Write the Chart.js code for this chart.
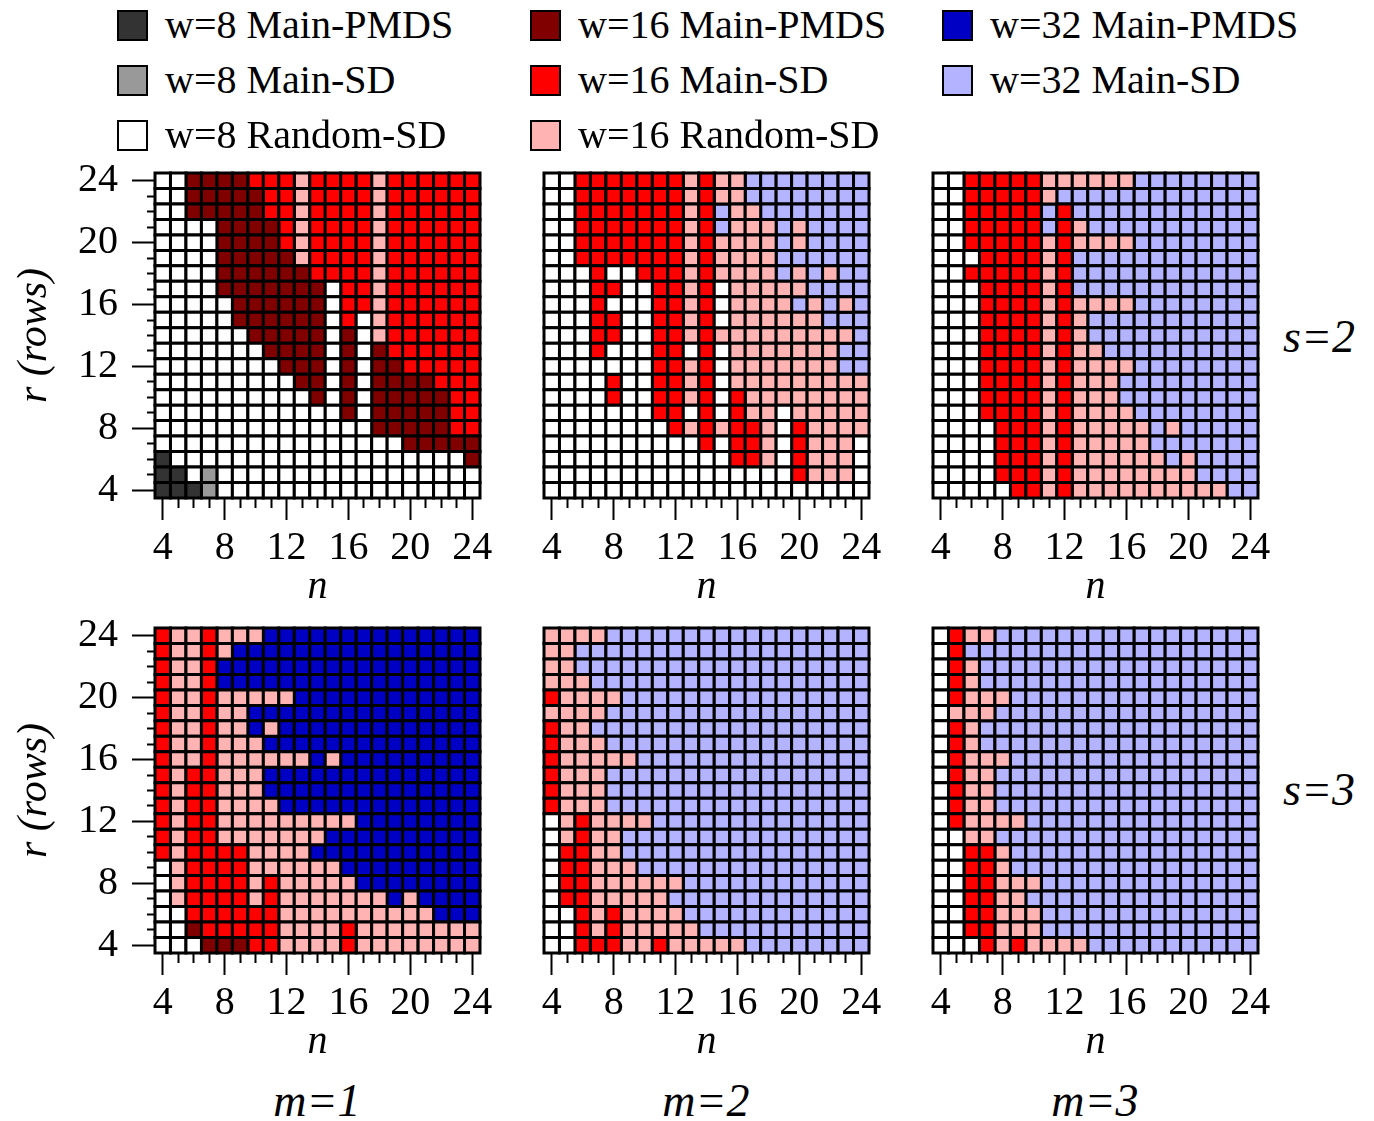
<!DOCTYPE html>
<html>
<head>
<meta charset="utf-8">
<script src="https://cdn.jsdelivr.net/npm/chart.js@4.4.0/dist/chart.umd.min.js"></script>
<style>
  body { margin: 0; background: #fff; }
  #page { position: relative; width: 1374px; height: 1121px; font-family: "Liberation Serif", serif; color: #000; }
  canvas.panel { position: absolute; }
  .key { position: absolute; width: 31px; height: 31px; box-sizing: border-box; border: 2px solid #000; }
  .keytext { position: absolute; font-size: 40px; line-height: 50px; white-space: nowrap; }
  .side { position: absolute; font-size: 46px; line-height: 56px; font-style: italic; white-space: nowrap; z-index: 2; }
</style>
</head>
<body>
<div id="page">
  <canvas class="panel" id="p1"></canvas>
  <canvas class="panel" id="p2"></canvas>
  <canvas class="panel" id="p3"></canvas>
  <canvas class="panel" id="p4"></canvas>
  <canvas class="panel" id="p5"></canvas>
  <canvas class="panel" id="p6"></canvas>
</div>
<script>
// n (columns) and r (rows, top to bottom)
var nValues = [4, 5, 6, 7, 8, 9, 10, 11, 12, 13, 14, 15, 16, 17, 18, 19, 20, 21, 22, 23, 24];
var rValues = [24, 23, 22, 21, 20, 19, 18, 17, 16, 15, 14, 13, 12, 11, 10, 9, 8, 7, 6, 5, 4];
var tickLabels = [4, 8, 12, 16, 20, 24];

var categories = ['w=8 Main-PMDS', 'w=8 Main-SD', 'w=8 Random-SD',
                  'w=16 Main-PMDS', 'w=16 Main-SD', 'w=16 Random-SD',
                  'w=32 Main-PMDS', 'w=32 Main-SD'];
var codes = ['A', 'B', 'W', 'D', 'R', 'P', 'N', 'L'];
var colors = ['#333333', '#999999', '#ffffff', '#800000', '#ff0000', '#ffb3b3', '#0000c4', '#b3b3ff'];

var rowLabels = ['s=2', 's=3'];
var colLabels = ['m=1', 'm=2', 'm=3'];

// one string per row r=24..4, one char per n=4..24
var s2m1 = [
  'WWDDDDRRRPRRRRPRRRRRR',
  'WWDDDDDRRPRRRRPRRRRRR',
  'WWDDDDDRRPRRRRPRRRRRR',
  'WWWWDDDDRPRRRRPRRRRRR',
  'WWWWDDDDRPRRRRPRRRRRR',
  'WWWWDDDDDPRRRRPRRRRRR',
  'WWWWDDDDDDRRRRPRRRRRR',
  'WWWWDDDDDDDWRRPRRRRRR',
  'WWWWWDDDDDDWRRPRRRRRR',
  'WWWWWDDDDDDWRWPRRRRRR',
  'WWWWWWDDDDDWDWPRRRRRR',
  'WWWWWWWDDDDWDWDRRRRRR',
  'WWWWWWWWDDDWDWDDRRRRR',
  'WWWWWWWWWDDWDWDDDDRRR',
  'WWWWWWWWWWDWDWDDDDDRR',
  'WWWWWWWWWWWWDWDDDDDRR',
  'WWWWWWWWWWWWWWDDDDDRR',
  'WWWWWWWWWWWWWWWWDDDDD',
  'AWWWWWWWWWWWWWWWWWWWD',
  'AAWBWWWWWWWWWWWWWWWWW',
  'AAABWWWWWWWWWWWWWWWWW'
];
var s2m2 = [
  'WWRRRRRRRPRPPLLLLLLLL',
  'WWRRRRRRRPRPPLLLLLLLL',
  'WWRRRRRRRPRLPPLLLLLLL',
  'WWRRRRRRRPRLPPPLPLLLL',
  'WWRRRRRRRPRPPPPLPLLLL',
  'WWRRRRRRRPRPPPPLLLLLL',
  'WWWRWWRRRPRPPPPLPLPLL',
  'WWWRRWWRRPRWPPPPPLLLL',
  'WWWRWWWRRPRWPPPPLPLPL',
  'WWWRRWWRRPRWPPPPPPLLL',
  'WWWRRWWRRPRPPPPPPPPPL',
  'WWWRWWWRRWRWPPPPPPPLL',
  'WWWWWWWRRPRWPPPPPPPLL',
  'WWWWRWWRRPRWPPPPPPPPP',
  'WWWWRWWRRPRWRPPPPPPPP',
  'WWWWWWWRRWRWRPPWPPPPP',
  'WWWWWWWWRPRPRRPWRPPPP',
  'WWWWWWWWWWRWRRPWRPPPW',
  'WWWWWWWWWWWWRRPWRPPPW',
  'WWWWWWWWWWWWWWWWRPPPW',
  'WWWWWWWWWWWWWWWWWWWWW'
];
var s2m3 = [
  'WWRRRRRPPPPPPLLLLLLLL',
  'WWRRRRRPLLLLLLLLLLLLL',
  'WWRRRRRLRLLLLLLLLLLLL',
  'WWRRRRRLRPLLLLLLLLLLL',
  'WWRRRRRPRPPPPLLLLLLLL',
  'WWWRRRRPRLLLLLLLLLLLL',
  'WWRRRRRPRLLLLLLLLLLLL',
  'WWWRRRRPRLLLLLLLLLLLL',
  'WWWRRRRPRPPPPLLLLLLLL',
  'WWWRRRRPRPLLLLLLLLLLL',
  'WWWRRRRPRPLLLLLLLLLLL',
  'WWWRRRRPRPPLLLLLLLLLL',
  'WWWRRRRPRPPPPLLLLLLLL',
  'WWWRRRRPRPPPLLLLLLLLL',
  'WWWRRRRPRPPPLLLLLLLLL',
  'WWWRRRRPRPPPPLLLLLLLL',
  'WWWWRRRPRPPPPPLPLLLLL',
  'WWWWRRRPRPPPPPLLLLLLL',
  'WWWWRRRPRPPPPPPLPLLLL',
  'WWWWRRRPRPPPPPPPPLLLL',
  'WWWWWRRPRPPPPPPPPPPLL'
];
var s3m1 = [
  'RPPRPPPNNNNNNNNNNNNNN',
  'RPPRPNNNNNNNNNNNNNNNN',
  'RPPRNNNNNNNNNNNNNNNNN',
  'RPPRNNNNNNNNNNNNNNNNN',
  'RPPRPPPPPNNNNNNNNNNNN',
  'RPPRPPNNNNNNNNNNNNNNN',
  'RPPRPPNPNNNNNNNNNNNNN',
  'RPPRPPPNNNNNNNNNNNNNN',
  'RPPRPPPPPPNPNNNNNNNNN',
  'RPRRPPPNNNNNNNNNNNNNN',
  'RPRRPPPNNNNNNNNNNNNNN',
  'RPRRPPPPNNNNNNNNNNNNN',
  'RPRRPPPPPPPPPNNNNNNNN',
  'RPRRPPPPPPPNNNNNNNNNN',
  'RPRRRRPPPPNNNNNNNNNNN',
  'WPRRRRPPPPPPNNNNNNNNN',
  'WPRRRRPRPPPPPNNNNNNNN',
  'WPRRRRPRPPPPPPPNPNNNN',
  'WWRRRRRRPPPPPPPPPPNNN',
  'WWDRRRRRPPPPRPPPPPPPP',
  'WWWDDDRRPPPPRPPPPPPPP'
];
var s3m2 = [
  'PPPPLLLLLLLLLLLLLLLLL',
  'PPLLLLLLLLLLLLLLLLLLL',
  'PPLLLLLLLLLLLLLLLLLLL',
  'PPPLLLLLLLLLLLLLLLLLL',
  'RPPPPLLLLLLLLLLLLLLLL',
  'PPPPLLLLLLLLLLLLLLLLL',
  'RPPLLLLLLLLLLLLLLLLLL',
  'RPPPLLLLLLLLLLLLLLLLL',
  'RPPPPPLLLLLLLLLLLLLLL',
  'RPPPLLLLLLLLLLLLLLLLL',
  'RPPPLLLLLLLLLLLLLLLLL',
  'RPPPLLLLLLLLLLLLLLLLL',
  'WPRPPPPLLLLLLLLLLLLLL',
  'WPRPPLLLLLLLLLLLLLLLL',
  'WRRPPLLLLLLLLLLLLLLLL',
  'WRRPPPLLLLLLLLLLLLLLL',
  'WRRPPPPPPLLLLLLLLLLLL',
  'WRRPPPPPLLLLLLLLLLLLL',
  'WWRPRPPPPLLLLLLLLLLLL',
  'WWRPRPPPPPLLLLLLLLLLL',
  'WWRRRPPRPPPPPLLLLLLLL'
];
var s3m3 = [
  'WRPPLLLLLLLLLLLLLLLLL',
  'WRLLLLLLLLLLLLLLLLLLL',
  'WRPLLLLLLLLLLLLLLLLLL',
  'WRPLLLLLLLLLLLLLLLLLL',
  'WRPPPLLLLLLLLLLLLLLLL',
  'WPPPLLLLLLLLLLLLLLLLL',
  'WRPLLLLLLLLLLLLLLLLLL',
  'WRPLLLLLLLLLLLLLLLLLL',
  'WRPPPLLLLLLLLLLLLLLLL',
  'WRPPLLLLLLLLLLLLLLLLL',
  'WRPPLLLLLLLLLLLLLLLLL',
  'WRPPLLLLLLLLLLLLLLLLL',
  'WRPPPPLLLLLLLLLLLLLLL',
  'WWPPLLLLLLLLLLLLLLLLL',
  'WWRRPLLLLLLLLLLLLLLLL',
  'WWRRPLLLLLLLLLLLLLLLL',
  'WWRRPPPLLLLLLLLLLLLLL',
  'WWRRPPLLLLLLLLLLLLLLL',
  'WWRRPPPLLLLLLLLLLLLLL',
  'WWRRPPPLLLLLLLLLLLLLL',
  'WWWRPRPPPPLLLLLLLLLLL'
];

var FONT = 'Liberation Serif, serif';
Chart.defaults.font.family = FONT;
Chart.defaults.color = '#000';
var page = document.getElementById('page');

// legend, three columns
var keyX = [117, 530, 942];
var keyTop = [10, 65, 120];
categories.forEach(function(name, k) {
  var col = Math.floor(k / 3), row = k % 3;
  var sq = document.createElement('div');
  sq.className = 'key';
  sq.style.left = keyX[col] + 'px';
  sq.style.top = keyTop[row] + 'px';
  sq.style.background = colors[k];
  page.appendChild(sq);
  var t = document.createElement('div');
  t.className = 'keytext';
  t.style.left = (keyX[col] + 48) + 'px';
  t.style.top = (keyTop[row] - 10) + 'px';
  t.textContent = name;
  page.appendChild(t);
});

function addLabel(text, x, y, center) {
  var d = document.createElement('div');
  d.className = 'side';
  d.textContent = text;
  d.style.top = y + 'px';
  if (center) {
    d.style.left = (x - 100) + 'px';
    d.style.width = '200px';
    d.style.textAlign = 'center';
  } else {
    d.style.left = x + 'px';
  }
  page.appendChild(d);
}
addLabel(rowLabels[0], 1283, 309, false);
addLabel(rowLabels[1], 1283, 762, false);
addLabel(colLabels[0], 317, 1073, true);
addLabel(colLabels[1], 706, 1073, true);
addLabel(colLabels[2], 1095, 1073, true);

function cellRadius(c) {
  var s = c.chart.scales.x;
  return Math.abs(s.getPixelForValue(1) - s.getPixelForValue(0)) / Math.SQRT2;
}

var XH = 113; // height of the x axis block (ticks, labels, title)

function makePanel(id, grid, areaLeft, areaTop, showY) {
  var padL = showY ? 155 : 25;
  var cv = document.getElementById(id);
  var w = padL + 325 + 25, h = 25 + 325 + XH;
  cv.width = w; cv.height = h;
  cv.style.left = (areaLeft - padL) + 'px';
  cv.style.top = (areaTop - 25) + 'px';
  cv.style.width = w + 'px'; cv.style.height = h + 'px';

  var datasets = codes.map(function(code, k) {
    var pts = [];
    grid.forEach(function(line, i) {
      for (var j = 0; j < nValues.length; j++) {
        if (line.charAt(j) === code) pts.push({x: nValues[j], y: rValues[i]});
      }
    });
    return {
      label: categories[k],
      data: pts,
      pointStyle: 'rect',
      pointRadius: cellRadius,
      pointBackgroundColor: colors[k],
      pointBorderColor: '#000',
      pointBorderWidth: 3,
      clip: false
    };
  });

  return new Chart(cv, {
    type: 'scatter',
    data: { datasets: datasets },
    options: {
      responsive: false,
      animation: false,
      events: [],
      layout: { padding: { left: showY ? 10 : 25, top: 25, right: 25, bottom: 0 } },
      plugins: { legend: { display: false }, tooltip: { enabled: false } },
      scales: {
        x: {
          type: 'linear', min: 3.5, max: 24.5,
          afterBuildTicks: function(s) { s.ticks = nValues.map(function(v) { return {value: v}; }); },
          afterFit: function(s) { s.height = XH; s.paddingLeft = 0; s.paddingRight = 0; },
          border: { display: false },
          grid: {
            drawOnChartArea: false, tickLength: 22, tickWidth: 2, tickColor: '#000',
            tickBorderDash: function(c) { return c.tick && c.tick.value % 4 === 0 ? [] : [10, 40]; }
          },
          ticks: {
            autoSkip: false, maxRotation: 0, padding: 4, color: '#000',
            font: { family: FONT, size: 40 },
            callback: function(v) { return tickLabels.indexOf(v) >= 0 ? String(v) : ''; }
          },
          title: { display: true, text: 'n', color: '#000', padding: 0,
                   font: { family: FONT, size: 40, style: 'italic' } }
        },
        y: {
          type: 'linear', min: 3.5, max: 24.5, display: showY,
          afterBuildTicks: function(s) { s.ticks = rValues.map(function(v) { return {value: v}; }); },
          afterFit: function(s) { s.width = showY ? 145 : 0; s.paddingTop = 0; s.paddingBottom = 0; },
          border: { display: false },
          grid: {
            drawOnChartArea: false, tickLength: 23, tickWidth: 2, tickColor: '#000',
            tickBorderDash: function(c) { return c.tick && c.tick.value % 4 === 0 ? [] : [0, 15, 8, 100]; }
          },
          ticks: {
            autoSkip: false, padding: 14, color: '#000',
            font: { family: FONT, size: 40 },
            callback: function(v) { return tickLabels.indexOf(v) >= 0 ? String(v) : ''; }
          },
          title: { display: true, text: 'r (rows)', color: '#000', padding: 0,
                   font: { family: FONT, size: 42, style: 'italic' } }
        }
      }
    }
  });
}

function drawAll() {
  makePanel('p1', s2m1, 155, 173, true);
  makePanel('p2', s2m2, 544, 173, false);
  makePanel('p3', s2m3, 933, 173, false);
  makePanel('p4', s3m1, 155, 628, true);
  makePanel('p5', s3m2, 544, 628, false);
  makePanel('p6', s3m3, 933, 628, false);
}

if (document.fonts && document.fonts.load) {
  Promise.all([
    document.fonts.load('40px "Liberation Serif"'),
    document.fonts.load('italic 40px "Liberation Serif"')
  ]).then(drawAll, drawAll);
} else {
  drawAll();
}
</script>
</body>
</html>
